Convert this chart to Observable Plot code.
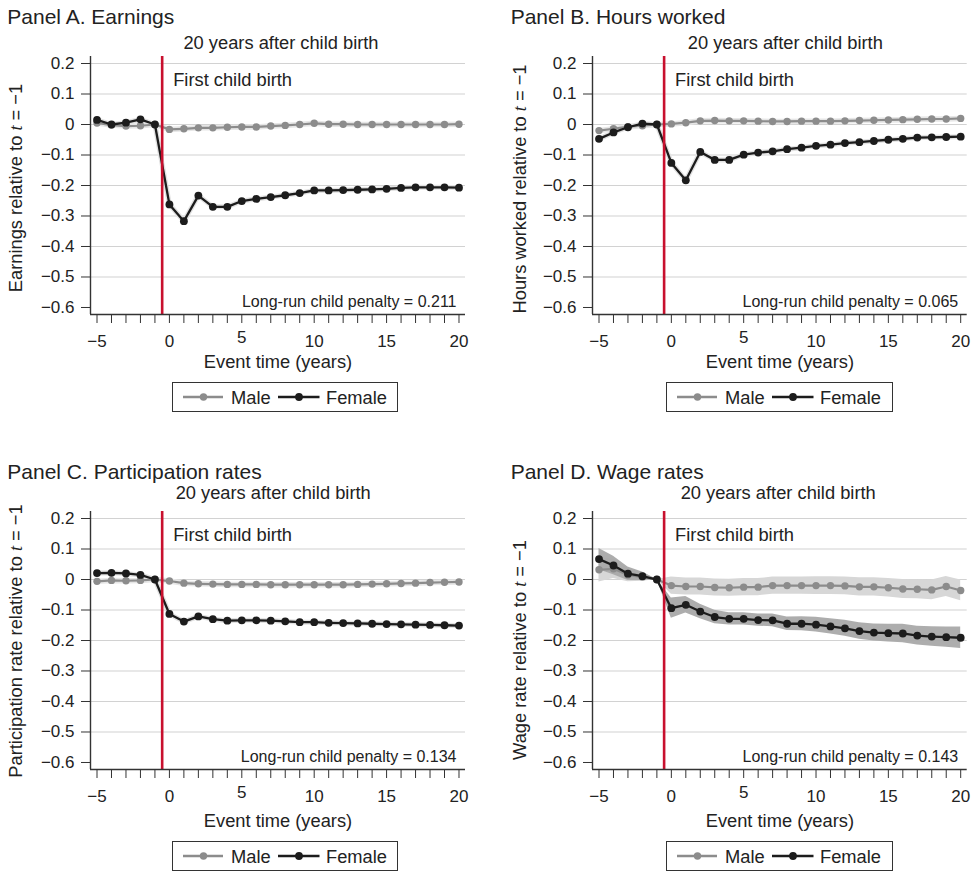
<!DOCTYPE html>
<html><head><meta charset="utf-8">
<script src="https://cdn.jsdelivr.net/npm/d3@7"></script>
<script src="https://cdn.jsdelivr.net/npm/@observablehq/plot@0.6"></script>
<style>
body{margin:0;background:#fff;font-family:"Liberation Sans",Arial,Helvetica,sans-serif;color:#222;}
#root{position:relative;width:974px;height:873px;overflow:hidden;}
.abs{position:absolute;white-space:nowrap;line-height:1;}
.title{font-size:21px;transform:translate(0,-50%);}
.sub{font-size:18.3px;transform:translate(-50%,-50%);}
.ylab{font-size:18.3px;transform:translate(-50%,-50%) rotate(-90deg);}
.legend{border:1.3px solid #333;box-sizing:border-box;}
svg{overflow:visible;}
</style></head><body><div id="root"></div>
<script>
// ---------- data ----------
const eventTime = [-5,-4,-3,-2,-1,0,1,2,3,4,5,6,7,8,9,10,11,12,13,14,15,16,17,18,19,20];
const seriesNames = ["Male", "Female"];

const earnMale   = [0.005,-0.002,-0.005,-0.004,0,-0.016,-0.014,-0.011,-0.011,-0.009,-0.008,-0.008,-0.005,-0.003,0.000,0.004,0.001,0.001,0,0,0,0,0,0,0,0.001];
const earnFemale = [0.015,0.000,0.006,0.017,0,-0.262,-0.317,-0.233,-0.270,-0.270,-0.251,-0.244,-0.238,-0.232,-0.225,-0.216,-0.216,-0.215,-0.214,-0.213,-0.211,-0.208,-0.206,-0.206,-0.206,-0.207];

const hoursMale   = [-0.020,-0.014,-0.007,-0.004,0,0.002,0.006,0.012,0.013,0.012,0.012,0.011,0.010,0.010,0.011,0.011,0.011,0.012,0.013,0.014,0.015,0.016,0.017,0.018,0.018,0.020];
const hoursFemale = [-0.047,-0.026,-0.009,0.003,0,-0.126,-0.183,-0.090,-0.116,-0.116,-0.099,-0.092,-0.088,-0.081,-0.076,-0.070,-0.066,-0.061,-0.058,-0.054,-0.050,-0.047,-0.043,-0.042,-0.041,-0.040];

const partMale   = [-0.006,-0.003,-0.004,-0.003,0,-0.005,-0.012,-0.014,-0.015,-0.016,-0.016,-0.016,-0.017,-0.017,-0.017,-0.017,-0.017,-0.017,-0.016,-0.015,-0.014,-0.013,-0.012,-0.010,-0.009,-0.008];
const partFemale = [0.021,0.022,0.020,0.015,0,-0.113,-0.138,-0.121,-0.130,-0.135,-0.134,-0.134,-0.135,-0.137,-0.140,-0.140,-0.142,-0.143,-0.144,-0.145,-0.146,-0.147,-0.148,-0.149,-0.150,-0.151];

const wageMale   = [0.032,0.035,0.015,0.008,0,-0.020,-0.023,-0.023,-0.026,-0.027,-0.025,-0.025,-0.020,-0.020,-0.020,-0.020,-0.020,-0.021,-0.024,-0.024,-0.027,-0.031,-0.032,-0.034,-0.023,-0.036];
const wageFemale = [0.067,0.046,0.019,0.011,0,-0.094,-0.083,-0.105,-0.123,-0.129,-0.129,-0.133,-0.134,-0.145,-0.145,-0.148,-0.154,-0.160,-0.169,-0.174,-0.176,-0.177,-0.184,-0.187,-0.189,-0.191];
const wageMaleCI   = [0.040,0.032,0.022,0.014,0,0.028,0.028,0.028,0.028,0.028,0.028,0.028,0.028,0.028,0.028,0.029,0.029,0.029,0.030,0.030,0.030,0.031,0.031,0.032,0.033,0.034];
const wageFemaleCI = [0.035,0.030,0.022,0.014,0,0.033,0.027,0.024,0.022,0.020,0.020,0.020,0.021,0.022,0.023,0.024,0.025,0.026,0.027,0.028,0.029,0.030,0.031,0.032,0.033,0.035];

const panelTitles = ["Panel A. Earnings","Panel B. Hours worked","Panel C. Participation rates","Panel D. Wage rates"];
const yLabelStems = ["Earnings","Hours worked","Participation rate","Wage rate"];
const penalties = ["0.211","0.065","0.134","0.143"];
const yTicks = [-0.6,-0.5,-0.4,-0.3,-0.2,-0.1,0,0.1,0.2];
const gridTicks = [-0.5,-0.4,-0.3,-0.2,-0.1,0,0.1,0.2];
const xTickLabels = [-5,0,5,10,15,20];
const birthLine = -0.5;
const subtitleText = "20 years after child birth";
const birthText = "First child birth";
const xLabelText = "Event time (years)";

// ---------- layout ----------
const xDomain = [-5.45, 20.45];
const yDomain = [-0.623, 0.223];
const maleColor = "#8c8c8c", femaleColor = "#1c1c1c", red = "#c8102e";
const layout = [
  {left:0,   top:30,  width:480, mr:15,  titleX:7.3,   titleY:15.5,  subX:281,   subY:42.5,  ylX:15.5, ylY:187.5, legX:171.7, legY:381.7, xlabDy:48},
  {left:502, top:30,  width:472, mr:7.3, titleX:510.7, titleY:15.5,  subX:785.3, subY:42.5,  ylX:520,  ylY:188.5, legX:666,   legY:381.7, xlabDy:48},
  {left:0,   top:485, width:480, mr:15,  titleX:7.3,   titleY:470.5, subX:273.2, subY:492.5, ylX:15.5, ylY:641,   legX:171.7, legY:840.7, xlabDy:52},
  {left:502, top:485, width:472, mr:7.3, titleX:510.7, titleY:470.5, subX:778.2, subY:492.5, ylX:520,  ylY:650,   legX:666,   legY:840.7, xlabDy:52}
];
const seriesData = [
  [earnMale, earnFemale, null, null],
  [hoursMale, hoursFemale, null, null],
  [partMale, partFemale, null, null],
  [wageMale, wageFemale, wageMaleCI, wageFemaleCI]
];

const root = document.getElementById("root");
const fmtY = d => Math.abs(d) < 1e-9 ? "0" : d3.format(".1f")(d);
const fmtX = d3.format("d");

function addDiv(cls, x, y, html, extra) {
  const el = document.createElement("div");
  el.className = "abs " + cls;
  el.style.left = x + "px"; el.style.top = y + "px";
  el.innerHTML = html;
  if (extra) Object.assign(el.style, extra);
  root.appendChild(el);
  return el;
}

layout.forEach((L, k) => {
  const [m, f, mci, fci] = seriesData[k];
  const rows = eventTime.map((t, i) => ({t, male: m[i], female: f[i],
    mlo: mci ? m[i] - mci[i] : null, mhi: mci ? m[i] + mci[i] : null,
    flo: fci ? f[i] - fci[i] : null, fhi: fci ? f[i] + fci[i] : null}));

  const marks = [Plot.ruleY(gridTicks, {stroke: "#d2d2d2", strokeWidth: 1.1})];
  if (mci) {
    marks.push(
      Plot.areaY(rows, {x: "t", y1: "mlo", y2: "mhi", fill: "#d7d7d7"}),
      Plot.areaY(rows, {x: "t", y1: "flo", y2: "fhi", fill: "#a9a9a9", fillOpacity: 0.95})
    );
  } else {
    marks.push(
      Plot.lineY(rows, {x: "t", y: "male", stroke: "#e6e6e6", strokeWidth: 5.5}),
      Plot.lineY(rows, {x: "t", y: "female", stroke: "#e2e2e2", strokeWidth: 5})
    );
  }
  marks.push(
    Plot.lineY(rows, {x: "t", y: "male", stroke: maleColor, strokeWidth: 2.2}),
    Plot.dot(rows, {x: "t", y: "male", r: 3.7, fill: maleColor}),
    Plot.lineY(rows, {x: "t", y: "female", stroke: femaleColor, strokeWidth: 2.3}),
    Plot.dot(rows, {x: "t", y: "female", r: 3.9, fill: femaleColor}),
    Plot.ruleX([birthLine], {stroke: red, strokeWidth: 2.6}),
    Plot.ruleX([xDomain[0]], {stroke: "#333", strokeWidth: 1.4}),
    Plot.ruleY([yDomain[0]], {stroke: "#333", strokeWidth: 1.4}),
    Plot.axisY({ticks: yTicks, tickSize: 9, tickPadding: 7, tickFormat: fmtY, fontSize: 17, label: null, stroke: "#333"}),
    Plot.axisX({ticks: eventTime, tickSize: 9, tickFormat: () => "", label: null, stroke: "#333"}),
    Plot.axisX({ticks: xTickLabels.filter(d => d !== 5), tickSize: 0, tickPadding: 20, tickFormat: fmtX, fontSize: 17, label: null}),
    Plot.axisX({ticks: xTickLabels.filter(d => d === 5), tickSize: 0, tickPadding: 16, tickFormat: fmtX, fontSize: 17, label: null}),
    Plot.text([birthText], {x: birthLine, frameAnchor: "top", lineAnchor: "middle", dx: 11, dy: 24, textAnchor: "start", fontSize: 18.3, fill: "#222"}),
    Plot.text([`Long-run child penalty = ${penalties[k]}`], {frameAnchor: "bottom-right", lineAnchor: "middle", dx: -9, dy: -12.5, textAnchor: "end", fontSize: 16, fill: "#222"}),
    Plot.text([xLabelText], {frameAnchor: "bottom", lineAnchor: "middle", dy: L.xlabDy, fontSize: 18.3, fill: "#222"})
  );

  const chart = Plot.plot({
    width: L.width, height: 345,
    marginLeft: 90, marginRight: L.mr, marginTop: 26, marginBottom: 61,
    x: {domain: xDomain},
    y: {domain: yDomain},
    style: {fontFamily: "'Liberation Sans', Arial, Helvetica, sans-serif", fontSize: "17px", color: "#222", background: "transparent"},
    marks
  });
  chart.style.position = "absolute";
  chart.style.left = L.left + "px";
  chart.style.top = L.top + "px";
  root.appendChild(chart);

  addDiv("title", L.titleX, L.titleY, panelTitles[k]);
  addDiv("sub", L.subX, L.subY, subtitleText);
  addDiv("ylab", L.ylX, L.ylY, `${yLabelStems[k]} relative to <i style="font-family:'Liberation Serif',serif">t</i> = \u22121`);

  addDiv("legend", L.legX, L.legY, `
    <svg width="224" height="27.4" style="display:block">
      <line x1="10" x2="50" y1="14" y2="14" stroke="${maleColor}" stroke-width="2.4"/>
      <circle cx="30.5" cy="14" r="3.7" fill="${maleColor}"/>
      <text x="58" y="14" dy="0.36em" font-size="18.3" fill="#222">${seriesNames[0]}</text>
      <line x1="105" x2="146.5" y1="14" y2="14" stroke="${femaleColor}" stroke-width="2.6"/>
      <circle cx="126" cy="14" r="3.9" fill="${femaleColor}"/>
      <text x="153" y="14" dy="0.36em" font-size="18.3" fill="#222">${seriesNames[1]}</text>
    </svg>`, {width: "226.6px", height: "30px"});
});
</script>
</body></html>
